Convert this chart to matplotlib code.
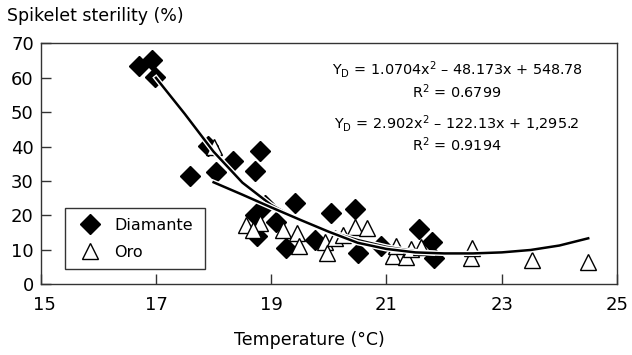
import matplotlib
matplotlib.use('Agg')
import matplotlib.pyplot as plt
import matplotlib.patheffects as pe
import matplotlib.transforms as mtransforms

plt.rcParams['font.family'] = ['DejaVu Sans']
plt.rcParams['mathtext.fontset'] = 'dejavusans'

# Diamante (filled diamonds)
dia_t = [16.71, 16.93, 16.99, 17.90, 18.81, 18.34, 18.05, 18.71, 17.59, 18.89, 19.42, 20.04,
         20.45, 18.71, 19.09, 18.76, 19.26, 19.76, 20.50, 20.91, 21.56, 21.79, 21.83]
dia_s = [63.4, 65.1, 60.3, 40.2, 38.6, 35.7, 32.7, 33.0, 31.3, 23.0, 23.5, 20.6,
         21.8, 20.1, 18.0, 14.0, 10.4, 12.8, 9.0, 11.1, 16.0, 12.3, 7.5]

# Oro (open triangles)
oro_t = [18.01, 18.57, 18.80, 18.69, 19.20, 19.44, 19.49, 19.93, 19.96, 20.10, 20.24, 20.45,
         20.66, 21.11, 21.16, 21.34, 21.43, 21.60, 22.47, 22.49, 23.53, 24.49]
oro_s = [40.0, 17.2, 17.7, 15.7, 15.7, 14.8, 11.1, 12.3, 9.0, 13.3, 14.3, 16.7,
         16.2, 8.2, 11.1, 8.0, 10.1, 10.7, 7.5, 10.4, 7.0, 6.5]

# fitted curves as drawn in the figure
fitD_t = [17.0, 17.5, 18.0, 18.5, 19.0, 19.5, 20.0, 20.5, 21.0, 21.5, 21.8]
fitD_s = [60.0, 49.5, 38.5, 29.5, 23.0, 18.5, 15.3, 12.8, 10.8, 9.5, 9.0]
fitO_t = [18.0, 18.5, 19.0, 19.5, 20.0, 20.5, 21.0, 21.5, 22.0, 22.5, 23.0, 23.5, 24.0, 24.5]
fitO_s = [29.6, 26.0, 22.3, 18.7, 15.2, 12.0, 10.2, 9.2, 8.9, 8.9, 9.2, 9.9, 11.2, 13.3]

eq_lines = ['Y$_\\mathregular{D}$ = 1.0704x$^\\mathregular{2}$ \u2013 48.173x + 548.78',
            'R$^\\mathregular{2}$ = 0.6799',
            'Y$_\\mathregular{D}$ = 2.902x$^\\mathregular{2}$ \u2013 122.13x + 1,295.2',
            'R$^\\mathregular{2}$ = 0.9194']
eq_y = [0.89, 0.798, 0.669, 0.578]

fig = plt.figure(figsize=(6.32, 3.55), dpi=100)
ax = fig.add_axes([0.0644, 0.2, 0.9119, 0.6775])

ax.plot(dia_t, dia_s, 'D', ms=10, color='black', label='Diamante', zorder=3)
ax.plot(oro_t, oro_s, '^', ms=11, mfc='white', mec='black', mew=1, label='Oro', zorder=4)

halo = [pe.Stroke(linewidth=3.8, foreground='white'), pe.Normal()]
ax.plot(fitD_t, fitD_s, color='black', lw=1.8, zorder=5, path_effects=halo)
ax.plot(fitO_t, fitO_s, color='black', lw=1.8, zorder=5, path_effects=halo)

for txt, yy in zip(eq_lines, eq_y):
    ax.text(0.722, yy, txt, transform=ax.transAxes, ha='center', va='center', fontsize=10.4)

ax.set_xlim(15, 25)
ax.set_ylim(0, 70)
ax.set_xticks([15, 17, 19, 21, 23, 25])
ax.set_yticks(range(0, 71, 10))
ax.tick_params(direction='in', length=7, width=1, color='#333333', labelsize=13)
ax.tick_params(axis='x', pad=9)
ax.tick_params(axis='y', pad=5)
for s in ax.spines.values():
    s.set_color('#333333')
    s.set_linewidth(1)

# first x label sits a little to the right in the original
lbl = ax.get_xticklabels()[0]
lbl.set_transform(lbl.get_transform() + mtransforms.ScaledTranslation(4 / 100, 0, fig.dpi_scale_trans))

fig.text(0.49, 0.042, 'Temperature (\u00b0C)', fontsize=12.5, ha='center', va='center')
fig.text(0.011, 0.955, 'Spikelet sterility (%)', fontsize=12.5, ha='left', va='center')

leg = ax.legend(loc='lower left', bbox_to_anchor=(0.042, 0.062, 0.243, 0.296), mode='expand',
                borderaxespad=0, fancybox=False, frameon=True, fontsize=11.5,
                handletextpad=0.5, labelspacing=0.75, borderpad=0.6)
leg.get_frame().set_edgecolor('black')
leg.get_frame().set_linewidth(1)

fig.savefig('out.png', dpi=100)
